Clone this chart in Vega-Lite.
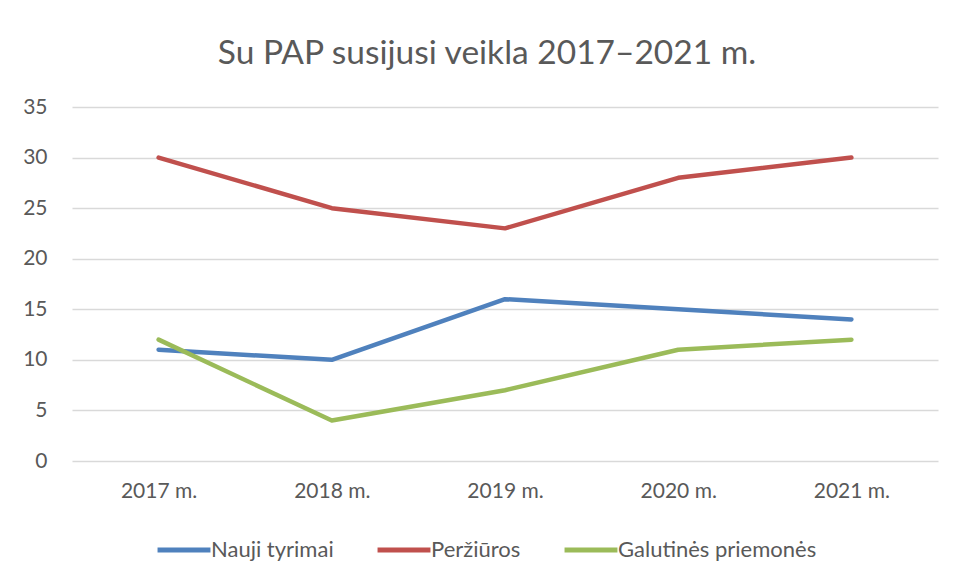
{
  "$schema": "https://vega.github.io/schema/vega-lite/v6.json",
  "width": 866,
  "height": 354,
  "autosize": {"type": "none"},
  "padding": {"left": 72, "top": 107, "right": 18, "bottom": 118},
  "background": "white",
  "title": {
    "text": "Su PAP susijusi veikla 2017–2021 m.",
    "font": "Lato",
    "fontSize": 33.5,
    "fontWeight": "normal",
    "color": "#595959",
    "anchor": "middle",
    "dx": -18,
    "offset": 25
  },
  "data": {
    "values": [
      {"metai": "2017 m.", "serija": "Nauji tyrimai", "reiksme": 11},
      {"metai": "2018 m.", "serija": "Nauji tyrimai", "reiksme": 10},
      {"metai": "2019 m.", "serija": "Nauji tyrimai", "reiksme": 16},
      {"metai": "2020 m.", "serija": "Nauji tyrimai", "reiksme": 15},
      {"metai": "2021 m.", "serija": "Nauji tyrimai", "reiksme": 14},
      {"metai": "2017 m.", "serija": "Peržiūros", "reiksme": 30},
      {"metai": "2018 m.", "serija": "Peržiūros", "reiksme": 25},
      {"metai": "2019 m.", "serija": "Peržiūros", "reiksme": 23},
      {"metai": "2020 m.", "serija": "Peržiūros", "reiksme": 28},
      {"metai": "2021 m.", "serija": "Peržiūros", "reiksme": 30},
      {"metai": "2017 m.", "serija": "Galutinės priemonės", "reiksme": 12},
      {"metai": "2018 m.", "serija": "Galutinės priemonės", "reiksme": 4},
      {"metai": "2019 m.", "serija": "Galutinės priemonės", "reiksme": 7},
      {"metai": "2020 m.", "serija": "Galutinės priemonės", "reiksme": 11},
      {"metai": "2021 m.", "serija": "Galutinės priemonės", "reiksme": 12}
    ]
  },
  "mark": {"type": "line", "strokeWidth": 4.5, "strokeCap": "round", "strokeJoin": "round"},
  "encoding": {
    "x": {
      "field": "metai",
      "type": "ordinal",
      "sort": null,
      "scale": {"type": "point", "padding": 0.5},
      "axis": {
        "title": null,
        "labelAngle": 0,
        "domain": false,
        "ticks": false,
        "grid": false,
        "labelPadding": 19,
        "labelFont": "Lato",
        "labelFontSize": 21,
        "labelColor": "#595959"
      }
    },
    "y": {
      "field": "reiksme",
      "type": "quantitative",
      "scale": {"domain": [0, 35]},
      "axis": {
        "title": null,
        "values": [0, 5, 10, 15, 20, 25, 30, 35],
        "domain": false,
        "ticks": false,
        "gridColor": "#d9d9d9",
        "gridWidth": 1.5,
        "labelPadding": 25,
        "labelFont": "Lato",
        "labelFontSize": 21,
        "labelColor": "#595959"
      }
    },
    "color": {
      "field": "serija",
      "type": "nominal",
      "sort": ["Nauji tyrimai", "Peržiūros", "Galutinės priemonės"],
      "scale": {
        "domain": ["Nauji tyrimai", "Peržiūros", "Galutinės priemonės"],
        "range": ["#4F81BD", "#C0504D", "#9BBB59"]
      },
      "legend": {
        "title": null,
        "orient": "none",
        "direction": "horizontal",
        "legendX": 83,
        "legendY": 414,
        "symbolType": "stroke",
        "symbolSize": 2800,
        "symbolStrokeWidth": 5,
        "labelFont": "Lato",
        "labelFontSize": 22,
        "labelColor": "#595959",
        "labelLimit": 400,
        "labelOffset": -2,
        "columnPadding": 33
      }
    }
  },
  "config": {
    "view": {"stroke": null}
  }
}
